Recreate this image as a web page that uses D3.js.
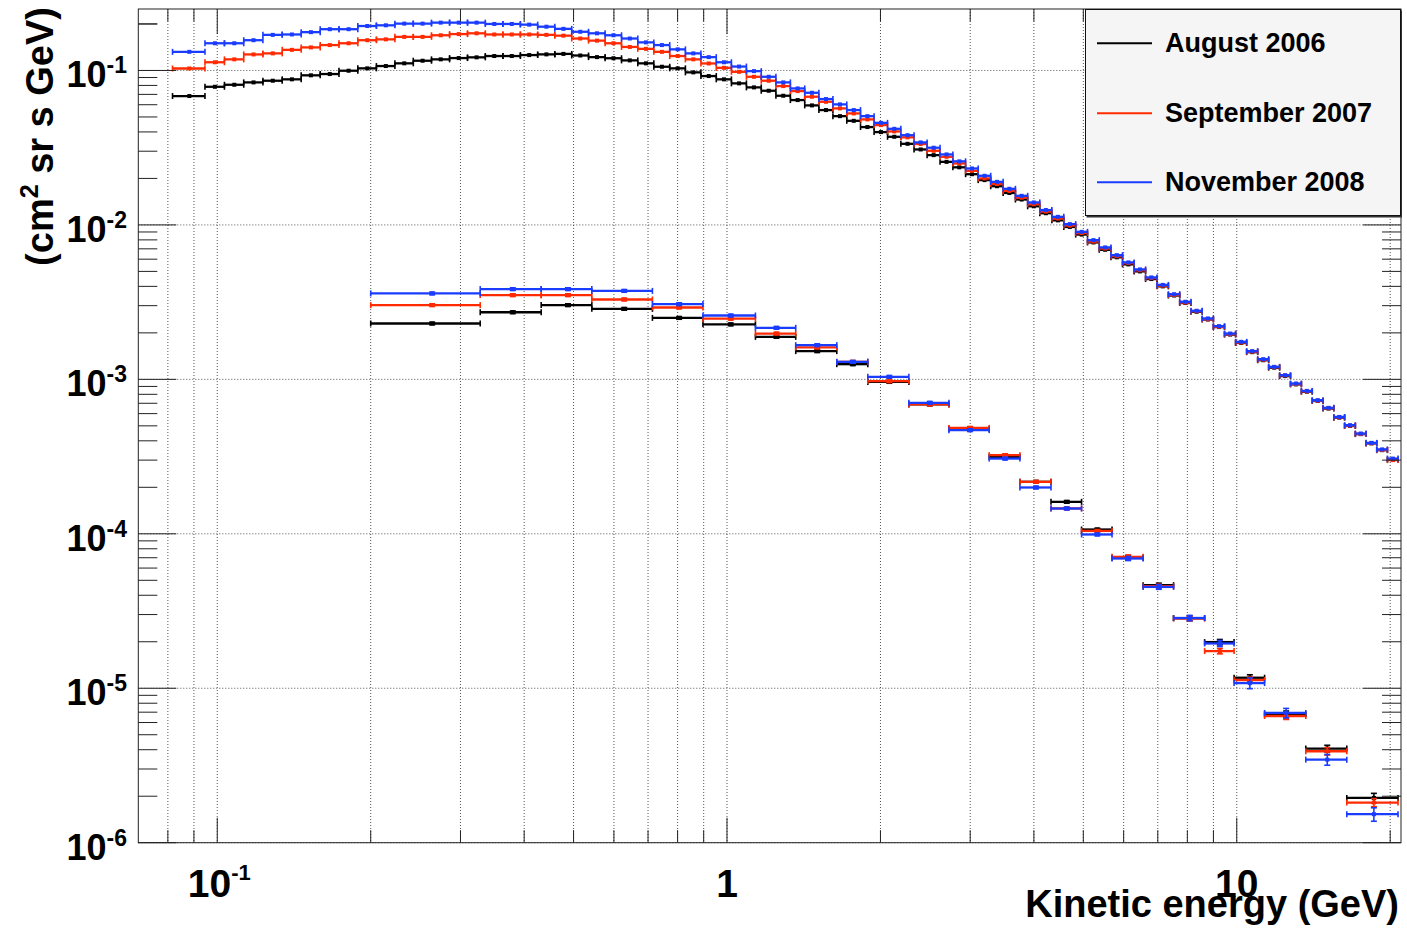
<!DOCTYPE html>
<html>
<head>
<meta charset="utf-8">
<script src="https://cdn.jsdelivr.net/npm/d3@7"></script>
<style>
  html, body { margin: 0; padding: 0; background: #fff; }
  svg { display: block; }
  text { font-family: "Liberation Sans", Arial, Helvetica, sans-serif; font-weight: bold; fill: #000; }
</style>
</head>
<body>
<svg id="chart" width="1407" height="931"></svg>
<script>
// ---------------- DATA ----------------
const seriesNames = ["August 2006", "September 2007", "November 2008"];
const seriesColors = ["#000000", "#ff2a00", "#1a3cff"];

// Fine-binned spectrum: bin edges in kinetic energy (GeV)
const fineEdges = [0.0817, 0.0946, 0.1033, 0.1127, 0.1229, 0.1341, 0.1461, 0.1592, 0.1733, 0.1887,
  0.2052, 0.2231, 0.2424, 0.2632, 0.2856, 0.3097, 0.3356, 0.3634, 0.3932, 0.4252,
  0.4594, 0.4959, 0.5350, 0.5766, 0.6210, 0.6683, 0.7185, 0.7720, 0.8287, 0.8889,
  0.9527, 1.0202, 1.0917, 1.1673, 1.2472, 1.3315, 1.4206, 1.5145, 1.6135, 1.7178,
  1.8277, 1.9434, 2.0651, 2.1931, 2.3277, 2.4692, 2.6178, 2.7740, 2.9380, 3.1102,
  3.2910, 3.4807, 3.6798, 3.8887, 4.1077, 4.3375, 4.5784, 4.8311, 5.0960, 5.3736,
  5.6647, 5.9697, 6.2894, 6.6244, 6.9755, 7.3433, 7.7287, 8.1325, 8.5555, 8.9987,
  9.4629, 9.9490, 10.458, 10.992, 11.551, 12.136, 12.749, 13.391, 14.064, 14.768,
  15.506, 16.278, 17.087, 17.935, 18.822, 19.751, 20.724];

const fineAug2006 = [0.0683, 0.0784, 0.0808, 0.0837, 0.0858, 0.0876, 0.0930, 0.0948, 0.0996, 0.1032,
  0.1068, 0.1112, 0.1156, 0.1180, 0.1203, 0.1216, 0.1240, 0.1240, 0.1258, 0.1271,
  0.1280, 0.1250, 0.1220, 0.1200, 0.1162, 0.1112, 0.1057, 0.1032, 0.0972, 0.0920,
  0.0876, 0.0825, 0.0777, 0.0739, 0.0686, 0.0643, 0.0594, 0.0554, 0.0506, 0.0472,
  0.0430, 0.0399, 0.0372, 0.0335, 0.0308, 0.0283, 0.0256, 0.0236, 0.0213, 0.0195,
  0.0178, 0.0161, 0.0146, 0.0132, 0.0119, 0.0107, 0.0097, 0.00866, 0.00770, 0.00690,
  0.00617, 0.00555, 0.00500, 0.00446, 0.00400, 0.00349, 0.00312, 0.00274, 0.00244, 0.00218,
  0.00195, 0.00172, 0.00150, 0.00133, 0.00119, 0.00105, 0.000928, 0.000832, 0.000725, 0.000647,
  0.000565, 0.000499, 0.000442, 0.000385, 0.000348, 0.000302];

const fineSep2007 = [0.103, 0.113, 0.118, 0.127, 0.129, 0.136, 0.141, 0.146, 0.150, 0.157,
  0.159, 0.165, 0.165, 0.169, 0.172, 0.174, 0.171, 0.171, 0.171, 0.170,
  0.168, 0.161, 0.156, 0.150, 0.142, 0.138, 0.132, 0.124, 0.118, 0.111,
  0.104, 0.098, 0.091, 0.0858, 0.0792, 0.0735, 0.0676, 0.0627, 0.0568, 0.0527,
  0.0482, 0.0443, 0.0403, 0.0369, 0.0334, 0.0302, 0.0276, 0.0250, 0.0224, 0.0200,
  0.0184, 0.0166, 0.0150, 0.0136, 0.0122, 0.0110, 0.0099, 0.00885, 0.00780, 0.00703,
  0.00627, 0.00565, 0.00508, 0.00452, 0.00404, 0.00352, 0.00314, 0.00276, 0.00245, 0.00219,
  0.00196, 0.00173, 0.00151, 0.00134, 0.00120, 0.00106, 0.000932, 0.000836, 0.000728, 0.000650,
  0.000567, 0.000501, 0.000443, 0.000386, 0.000349, 0.000300];

const fineNov2008 = [0.132, 0.150, 0.150, 0.157, 0.170, 0.171, 0.177, 0.185, 0.185, 0.194,
  0.196, 0.201, 0.201, 0.204, 0.204, 0.204, 0.200, 0.200, 0.198, 0.192,
  0.186, 0.178, 0.174, 0.169, 0.161, 0.152, 0.146, 0.137, 0.129, 0.122,
  0.113, 0.106, 0.099, 0.091, 0.0837, 0.0765, 0.0717, 0.0653, 0.0603, 0.0554,
  0.0506, 0.0458, 0.0419, 0.0381, 0.0342, 0.0316, 0.0286, 0.0258, 0.0232, 0.0208,
  0.0190, 0.01713, 0.01543, 0.01398, 0.01248, 0.01128, 0.01012, 0.00902, 0.00797, 0.00715,
  0.00637, 0.00572, 0.00515, 0.00457, 0.00409, 0.00356, 0.00318, 0.00278, 0.00248, 0.00221,
  0.00198, 0.00175, 0.001523, 0.001351, 0.001205, 0.001064, 0.00094, 0.000842, 0.000733, 0.000654,
  0.000571, 0.000505, 0.000446, 0.000388, 0.000352, 0.000307];

// Coarse-binned spectrum
const coarseEdges = [0.2, 0.328, 0.432, 0.543, 0.714, 0.897, 1.137, 1.364, 1.642, 1.889,
  2.274, 2.725, 3.269, 3.755, 4.321, 4.961, 5.693, 6.551, 7.517, 8.650,
  9.88, 11.34, 13.66, 16.44, 20.72];

const coarseAug2006 = [0.0023, 0.00272, 0.003025, 0.00286, 0.0025, 0.00227, 0.001885, 0.001523, 0.001254, 0.000963,
  0.000688, 0.000478, 0.000315, 0.000217, 0.000161, 0.0001066, 7.0e-5, 4.65e-5, 2.84e-5, 1.99e-5,
  1.17e-5, 6.78e-6, 4.07e-6, 1.95e-6];
const coarseSep2007 = [0.003025, 0.00351, 0.00351, 0.00329, 0.00292, 0.00247, 0.00198, 0.001609, 0.001298, 0.000973,
  0.000688, 0.000485, 0.000323, 0.000217, 0.000146, 0.0001044, 7.09e-5, 4.58e-5, 2.83e-5, 1.74e-5,
  1.13e-5, 6.61e-6, 3.91e-6, 1.82e-6];
const coarseNov2008 = [0.0036, 0.00384, 0.00384, 0.00374, 0.00307, 0.00259, 0.002156, 0.001665, 0.001298, 0.001038,
  0.000705, 0.000469, 0.000307, 0.0001995, 0.0001458, 9.9e-5, 6.92e-5, 4.53e-5, 2.85e-5, 1.95e-5,
  1.08e-5, 6.92e-6, 3.45e-6, 1.53e-6];

// relative vertical errors of the coarse spectrum
const coarseErrAug2006 = [0.02, 0.02, 0.02, 0.02, 0.02, 0.02, 0.02, 0.02, 0.02, 0.02,
  0.02, 0.02, 0.02, 0.02, 0.02, 0.02, 0.03, 0.03, 0.035, 0.04, 0.045, 0.05, 0.05, 0.07];
const coarseErrSep2007 = [0.02, 0.02, 0.02, 0.02, 0.02, 0.02, 0.02, 0.02, 0.02, 0.02,
  0.02, 0.02, 0.02, 0.02, 0.02, 0.02, 0.03, 0.03, 0.035, 0.04, 0.045, 0.05, 0.055, 0.06];
const coarseErrNov2008 = [0.02, 0.02, 0.02, 0.02, 0.02, 0.02, 0.02, 0.02, 0.02, 0.02,
  0.02, 0.02, 0.02, 0.02, 0.02, 0.02, 0.03, 0.035, 0.04, 0.045, 0.08, 0.07, 0.08, 0.10];

const xTickValues = [0.08, 0.09, 0.1, 0.2, 0.3, 0.4, 0.5, 0.6, 0.7, 0.8, 0.9, 1, 2, 3, 4, 5, 6, 7, 8, 9, 10, 20];
const xMajor = [0.1, 1, 10];
const xLabels = [{v: 0.1, base: "10", exp: "-1"}, {v: 1, base: "1", exp: ""}, {v: 10, base: "10", exp: ""}];
const yDecades = [1e-1, 1e-2, 1e-3, 1e-4, 1e-5, 1e-6];
const yLabelExps = ["-1", "-2", "-3", "-4", "-5", "-6"];
const xTitle = "Kinetic energy (GeV)";

// ---------------- LAYOUT ----------------
const svg = d3.select("#chart");
const L = 138.3, R = 1401, T = 9, B = 842.7;
const x = d3.scaleLog().domain([0.07, 21]).range([L, R]);
const y = d3.scaleLog().domain([1e-6, 0.25]).range([B, T]);

const frameColor = "#222";

// y ticks (1..9 × decades) inside the range
const yTicksAll = [];
for (let e = -6; e <= -1; e++) {
  for (let m = 1; m <= 9; m++) {
    const v = m * Math.pow(10, e);
    if (v >= 1e-6 && v <= 0.25) yTicksAll.push({v, major: m === 1});
  }
}
yTicksAll.push({v: 0.2, major: false});

// grid
const grid = svg.append("g");
grid.selectAll("line.vx").data(xTickValues).join("line")
  .attr("x1", d => x(d)).attr("x2", d => x(d)).attr("y1", T).attr("y2", B)
  .attr("stroke", "#555").attr("stroke-width", 1).attr("stroke-dasharray", "1,2");
grid.selectAll("line.hy").data(yDecades).join("line")
  .attr("y1", d => y(d)).attr("y2", d => y(d)).attr("x1", L).attr("x2", R)
  .attr("stroke", "#555").attr("stroke-width", 1).attr("stroke-dasharray", "1,2");

// ---------------- DATA MARKS ----------------
const plot = svg.append("g");
const cap = 3;

function drawSeries(edges, values, errs, color) {
  const bins = values.map((v, i) => ({lo: edges[i], hi: edges[i + 1], v, e: errs ? errs[i] : 0}));
  const g = plot.append("g").attr("stroke", color).attr("fill", color);
  g.selectAll("line.h").data(bins).join("line")
    .attr("x1", d => x(d.lo)).attr("x2", d => x(d.hi))
    .attr("y1", d => y(d.v)).attr("y2", d => y(d.v)).attr("stroke-width", 2.3);
  g.selectAll("line.cl").data(bins).join("line")
    .attr("x1", d => x(d.lo)).attr("x2", d => x(d.lo))
    .attr("y1", d => y(d.v) - cap).attr("y2", d => y(d.v) + cap).attr("stroke-width", 1.6);
  g.selectAll("line.cr").data(bins).join("line")
    .attr("x1", d => x(d.hi)).attr("x2", d => x(d.hi))
    .attr("y1", d => y(d.v) - cap).attr("y2", d => y(d.v) + cap).attr("stroke-width", 1.6);
  const eb = bins.filter(d => d.e > 0);
  g.selectAll("line.ve").data(eb).join("line")
    .attr("x1", d => x((d.lo + d.hi) / 2)).attr("x2", d => x((d.lo + d.hi) / 2))
    .attr("y1", d => y(d.v * (1 + d.e))).attr("y2", d => y(d.v * (1 - d.e))).attr("stroke-width", 1.6);
  g.selectAll("line.vt").data(eb).join("line")
    .attr("x1", d => x((d.lo + d.hi) / 2) - cap).attr("x2", d => x((d.lo + d.hi) / 2) + cap)
    .attr("y1", d => y(d.v * (1 + d.e))).attr("y2", d => y(d.v * (1 + d.e))).attr("stroke-width", 1.6);
  g.selectAll("line.vb").data(eb).join("line")
    .attr("x1", d => x((d.lo + d.hi) / 2) - cap).attr("x2", d => x((d.lo + d.hi) / 2) + cap)
    .attr("y1", d => y(d.v * (1 - d.e))).attr("y2", d => y(d.v * (1 - d.e))).attr("stroke-width", 1.6);
  g.selectAll("rect.m").data(bins).join("rect")
    .attr("x", d => x((d.lo + d.hi) / 2) - 2).attr("y", d => y(d.v) - 2)
    .attr("width", 4).attr("height", 4).attr("stroke", "none");
}

const fineSets = [fineAug2006, fineSep2007, fineNov2008];
const coarseSets = [coarseAug2006, coarseSep2007, coarseNov2008];
const coarseErrs = [coarseErrAug2006, coarseErrSep2007, coarseErrNov2008];
for (let s = 0; s < 3; s++) {
  drawSeries(fineEdges, fineSets[s], null, seriesColors[s]);
  drawSeries(coarseEdges, coarseSets[s], coarseErrs[s], seriesColors[s]);
}

// ---------------- FRAME & TICKS ----------------
const axes = svg.append("g").attr("stroke", frameColor).attr("stroke-width", 1);
axes.append("rect").attr("x", L).attr("y", T).attr("width", R - L).attr("height", B - T)
  .attr("fill", "none");

const xMajLen = 25, xMinLen = 12.5, yMajLen = 38, yMinLen = 19;
axes.selectAll("line.xb").data(xTickValues).join("line")
  .attr("x1", d => x(d)).attr("x2", d => x(d))
  .attr("y1", B).attr("y2", d => B - (xMajor.includes(d) ? xMajLen : xMinLen));
axes.selectAll("line.xt").data(xTickValues).join("line")
  .attr("x1", d => x(d)).attr("x2", d => x(d))
  .attr("y1", T).attr("y2", d => T + (xMajor.includes(d) ? xMajLen : xMinLen));
axes.selectAll("line.yl").data(yTicksAll).join("line")
  .attr("y1", d => y(d.v)).attr("y2", d => y(d.v))
  .attr("x1", L).attr("x2", d => L + (d.major ? yMajLen : yMinLen));
axes.selectAll("line.yr").data(yTicksAll).join("line")
  .attr("y1", d => y(d.v)).attr("y2", d => y(d.v))
  .attr("x1", R).attr("x2", d => R - (d.major ? yMajLen : yMinLen));

// y tick labels
const ylab = svg.append("g");
yDecades.forEach((d, i) => {
  const t = ylab.append("text").attr("x", 127).attr("y", y(d) + 17)
    .attr("text-anchor", "end").attr("font-size", 36);
  t.append("tspan").text("10");
  t.append("tspan").attr("dy", -14).attr("font-size", 23).text(yLabelExps[i]);
});

// x tick labels
const xlab = svg.append("g");
xLabels.forEach(d => {
  const t = xlab.append("text").attr("x", x(d.v) + (d.exp ? 2 : 0)).attr("y", 897)
    .attr("text-anchor", "middle").attr("font-size", 39);
  t.append("tspan").text(d.base);
  if (d.exp) t.append("tspan").attr("dy", -17).attr("font-size", 22).text(d.exp);
});

// axis titles
svg.append("text").attr("x", 1399).attr("y", 917).attr("text-anchor", "end")
  .attr("font-size", 38).text(xTitle);

const yt = svg.append("text").attr("transform", "translate(53,7) rotate(-90)")
  .attr("text-anchor", "end").attr("font-size", 38);
yt.append("tspan").text("(cm");
yt.append("tspan").attr("dy", -15).attr("font-size", 25).text("2");
yt.append("tspan").attr("dy", 15).text(" sr s GeV)");

// ---------------- LEGEND ----------------
const lg = svg.append("g");
lg.append("rect").attr("x", 1086.5).attr("y", 10.5).attr("width", 315.5).attr("height", 207)
  .attr("fill", "#333");
lg.append("rect").attr("x", 1085.5).attr("y", 9.5).attr("width", 315).attr("height", 206)
  .attr("fill", "#f5f5f5").attr("stroke", "#111").attr("stroke-width", 1);
const legY = [43.3, 113.3, 182.3];
seriesNames.forEach((name, i) => {
  lg.append("line").attr("x1", 1097).attr("x2", 1152).attr("y1", legY[i]).attr("y2", legY[i])
    .attr("stroke", seriesColors[i]).attr("stroke-width", 2);
  lg.append("text").attr("x", 1165).attr("y", legY[i] + 9).attr("font-size", 27).text(name);
});
</script>
</body>
</html>
